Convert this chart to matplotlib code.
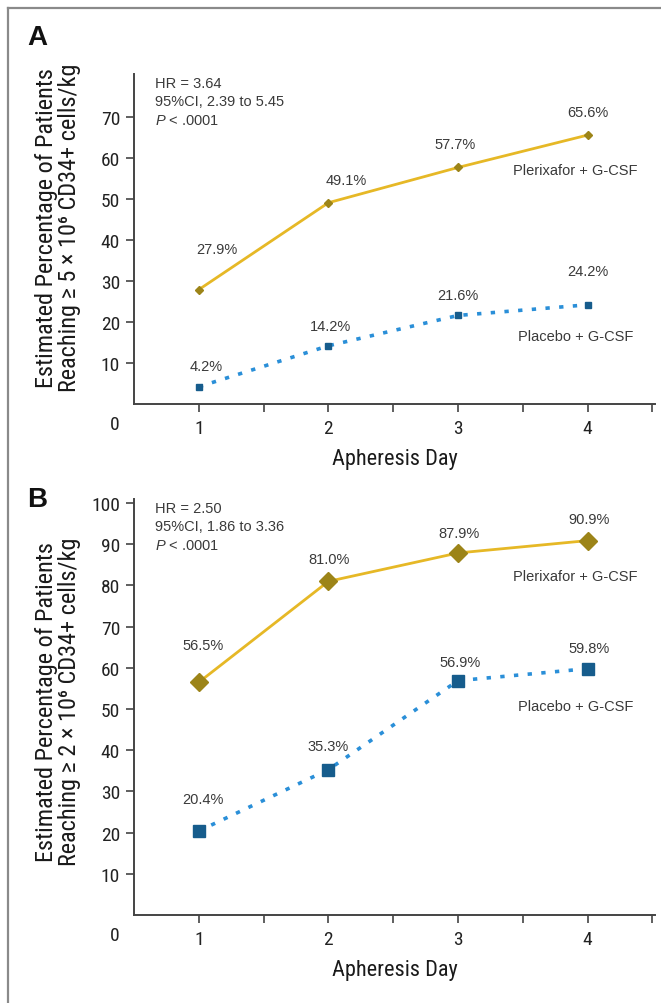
import matplotlib
matplotlib.use("Agg")
import matplotlib.pyplot as plt
from matplotlib.lines import Line2D

# valores
dias = [1, 2, 3, 4]
plerixafor_a = [27.9, 49.1, 57.7, 65.6]
placebo_a = [4.2, 14.2, 21.6, 24.2]
plerixafor_b = [56.5, 81.0, 87.9, 90.9]
placebo_b = [20.4, 35.3, 56.9, 59.8]
yticks_a = [10, 20, 30, 40, 50, 60, 70]
yticks_b = [10, 20, 30, 40, 50, 60, 70, 80, 90, 100]
stats_a = ["HR = 3.64", "95%CI, 2.39 to 5.45", "$\\it{P}$ < .0001"]
stats_b = ["HR = 2.50", "95%CI, 1.86 to 3.36", "$\\it{P}$ < .0001"]
ylabel_a = "Estimated Percentage of Patients\nReaching \u2265 5 \u00d7 10\u2076 CD34+ cells/kg"
ylabel_b = "Estimated Percentage of Patients\nReaching \u2265 2 \u00d7 10\u2076 CD34+ cells/kg"

narrow = ["Roboto Condensed", "DejaVu Sans"]
normal = ["Liberation Sans", "DejaVu Sans"]
plt.rcParams["mathtext.fontset"] = "custom"
plt.rcParams["mathtext.it"] = "Liberation Sans:italic"
plt.rcParams["mathtext.rm"] = "Liberation Sans"

ouro = "#E6B826"
ouro_escuro = "#9C8418"
azul = "#2A8FD8"
azul_escuro = "#165C8C"
texto = "#3a3a3a"
eixo = "#444444"

fig = plt.figure(figsize=(6.61, 10.04), dpi=100)
W, H = 661, 1004


def painel(bottom_px, top_px, ytop, pler, plac, yticks, stats, ylabel, letra,
           off_pler, off_plac, ms_d, ms_s, ylab_y, letra_y, dy_placebo):
    ax = fig.add_axes([134 / W, 1 - bottom_px / H, (655 - 134) / W, (bottom_px - top_px) / H])
    ax.plot(dias, pler, color=ouro, lw=2, marker="D", ms=ms_d,
            mfc=ouro_escuro, mec=ouro_escuro, zorder=3)
    ax.plot(dias, plac, color=azul, lw=2.6, ls=(0, (1.2, 2.6)), marker="s", ms=ms_s,
            mfc=azul_escuro, mec=azul_escuro, zorder=3)
    ax.set_xlim(0.5, 4.52)
    ax.set_ylim(0, ytop)
    ax.set_xticks(dias)
    ax.set_xticks([1.5, 2.5, 3.5, 4.5], minor=True)
    ax.set_yticks(yticks)
    for s in ["top", "right"]:
        ax.spines[s].set_visible(False)
    for s in ["left", "bottom"]:
        ax.spines[s].set_color(eixo)
        ax.spines[s].set_linewidth(1.4)
    ax.tick_params(which="both", direction="out", length=6, width=1.2, color=eixo)
    ax.tick_params(axis="x", pad=5, labelsize=14, labelcolor="#222222")
    ax.tick_params(axis="y", pad=4, labelsize=14, labelcolor="#222222")
    for lb in ax.get_xticklabels() + ax.get_yticklabels():
        lb.set_family(narrow)
    ax.annotate("0", xy=(0, 0), xycoords="axes fraction", xytext=(-19, -20),
                textcoords="offset pixels", ha="center", va="center",
                fontsize=14, family=narrow, color="#222222", annotation_clip=False)
    ax.set_xlabel("Apheresis Day", fontsize=16, family=narrow,
                  color="#1a1a1a", labelpad=8)

    for x, y, (dx, dy) in zip(dias, pler, off_pler):
        ax.annotate(f"{y:.1f}%", xy=(x, y), xytext=(dx, dy), textcoords="offset pixels",
                    ha="center", va="center", fontsize=10.5, family=normal, color=texto)
    for x, y, (dx, dy) in zip(dias, plac, off_plac):
        ax.annotate(f"{y:.1f}%", xy=(x, y), xytext=(dx, dy), textcoords="offset pixels",
                    ha="center", va="center", fontsize=10.5, family=normal, color=texto)

    # nomes das series
    ax.annotate("Plerixafor + G-CSF", xy=(dias[-1], pler[-1]), xytext=(-12, -35),
                textcoords="offset pixels", ha="center", va="center",
                fontsize=10.5, family=normal, color=texto)
    ax.annotate("Placebo + G-CSF", xy=(dias[-1], plac[-1]), xytext=(-12, dy_placebo),
                textcoords="offset pixels", ha="center", va="center",
                fontsize=10.5, family=normal, color=texto)

    ax.text(0.04, 1.0 - 2 / (bottom_px - top_px), "\n".join(stats), transform=ax.transAxes,
            ha="left", va="top", fontsize=10.5, family=normal, color=texto, linespacing=1.4)

    fig.text(58 / W, 1 - ylab_y / H, ylabel, rotation=90, ha="center", va="center",
             multialignment="center", fontsize=17.5, family=narrow,
             color="#1a1a1a", linespacing=1.0)
    fig.text(37 / W, 1 - letra_y / H, letra, ha="center", va="center",
             fontsize=20, fontweight="bold", family=normal, color="#111111")
    return ax


painel(405, 75, 80.5, plerixafor_a, placebo_a, yticks_a, stats_a, ylabel_a, "A",
       [(18, 41), (18, 23), (-3, 23), (0, 23)],
       [(7, 21), (2, 20), (0, 20), (0, 34)], 4.5, 5, 228, 38, -31)
painel(916, 500, 101, plerixafor_b, placebo_b, yticks_b, stats_b, ylabel_b, "B",
       [(4, 37), (1, 22), (1, 20), (1, 22)],
       [(4, 32), (0, 24), (2, 19), (1, 21)], 9, 8.5, 702, 500, -37)

# moldura cinza (esquerda e topo)
fig.add_artist(Line2D([8 / W, 8 / W], [0, 1 - 9 / H], transform=fig.transFigure,
                      color="#8a8a8a", lw=1.6))
fig.add_artist(Line2D([8 / W, 1], [1 - 9 / H, 1 - 9 / H], transform=fig.transFigure,
                      color="#8a8a8a", lw=1.6))

fig.savefig("out.png", dpi=100)
